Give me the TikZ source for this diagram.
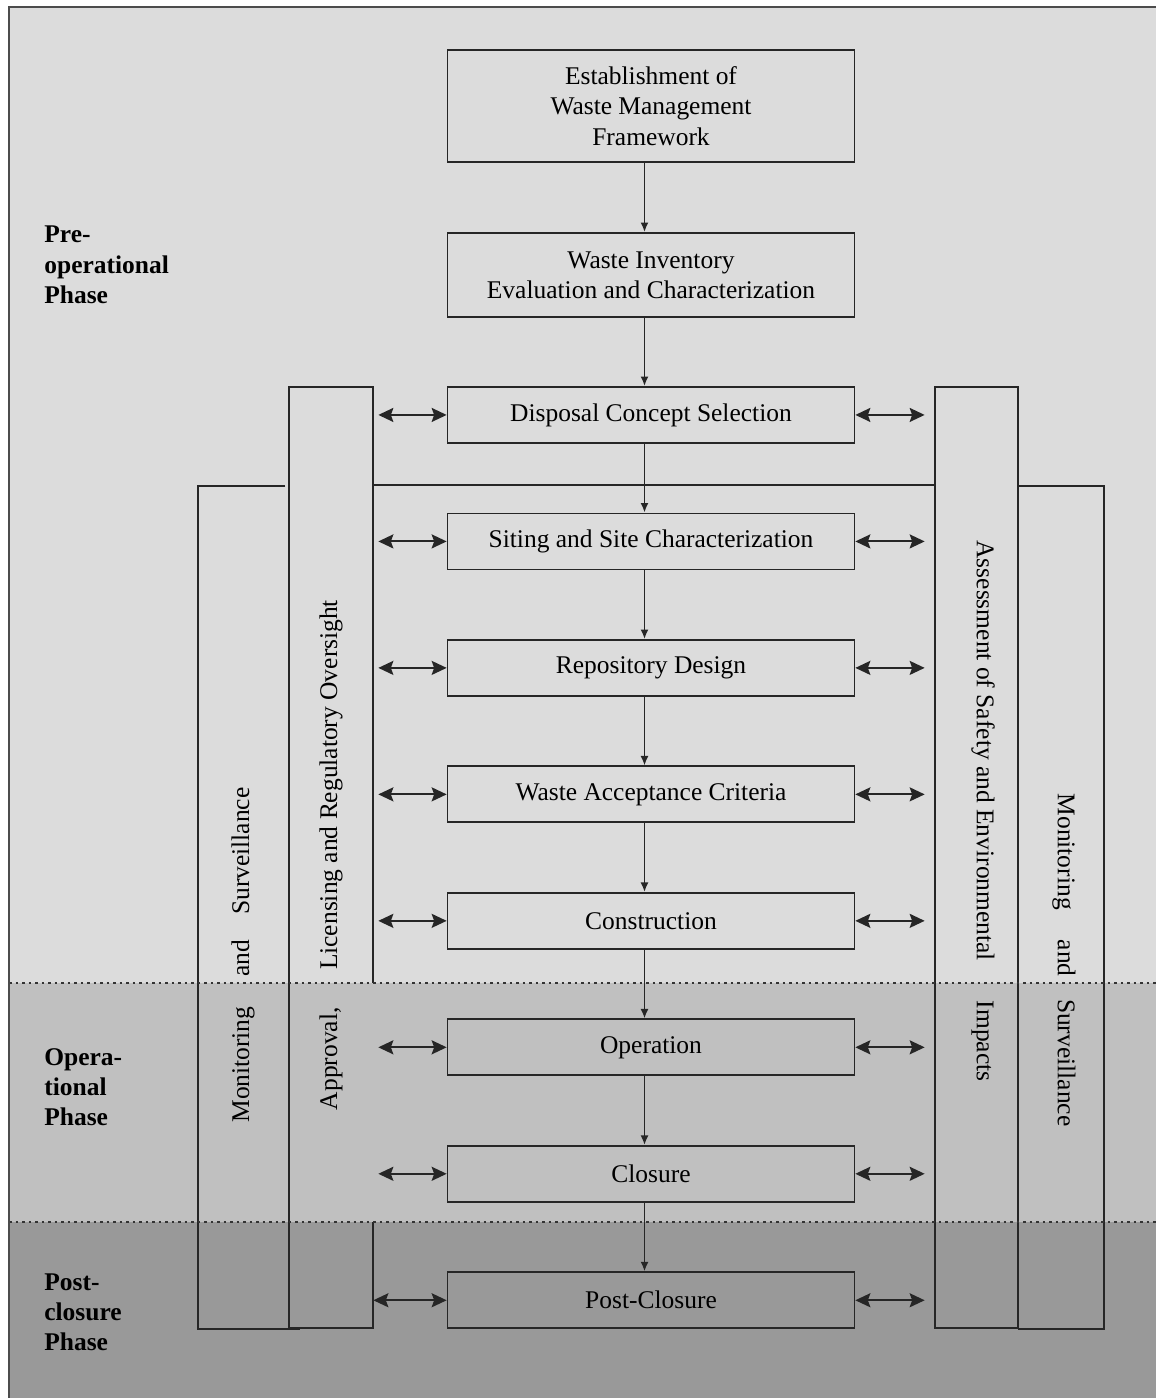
\documentclass[tikz,border=0pt]{standalone}
\usepackage{fontspec}
\setmainfont{Liberation Serif}
\usetikzlibrary{positioning,arrows.meta}

\definecolor{preop}{gray}{0.863}
\definecolor{opgray}{gray}{0.753}
\definecolor{postgray}{gray}{0.6}

\begin{document}
\begin{tikzpicture}[x=0.02cm,y=-0.02cm,node distance=2.53cm,on grid,
    font=\fontsize{14.5}{17.2}\selectfont,
    stage/.style={draw=black!85,line width=1pt,minimum width=8.14cm,
      minimum height=1.12cm,align=center,inner sep=2pt},
    lane/.style={inner sep=0pt,minimum height=18.82cm},
    outer/.style={inner sep=0pt,minimum height=16.86cm},
    lanetext/.style={inner sep=0pt},
    phase/.style={anchor=west,align=left,inner sep=0pt,
      font=\fontsize{14.5}{17.2}\selectfont\bfseries},
    edgeline/.style={draw=black!85,line width=1pt},
    flow/.style={edgeline,-{Latex[length=1.9mm,width=1.6mm]}},
    link/.style={edgeline,line width=1.1pt,
      {Stealth[length=3mm,width=2.8mm,inset=0.5mm]}-{Stealth[length=3mm,width=2.8mm,inset=0.5mm]}},
    divider/.style={draw=black!80,line width=1.3pt,dash pattern=on 1.5pt off 2.2pt},
    frame/.style={draw=black!70,line width=1.5pt}]

  % phase bands
  \useasboundingbox (0,0) rectangle (1156,1398);
  \fill[white] (0,0) rectangle (1156,1398);
  \fill[preop] (9,7) rectangle (1156,983);
  \fill[opgray] (9,983) rectangle (1156,1222);
  \fill[postgray] (9,1222) rectangle (1156,1398);
  \coordinate (opline) at (9,983);
  \coordinate (opend) at (1156,983);
  \coordinate (postline) at (9,1222);
  \coordinate (postend) at (1156,1222);
  \coordinate (bar) at (651,485);

  % stages
  \node[stage,minimum height=2.24cm] (b1) at (651,106) {Establishment of\\Waste Management\\Framework};
  \node[stage,minimum height=1.68cm] (b2) [below=3.38cm of b1] {Waste Inventory\\Evaluation and Characterization};
  \node[stage] (b3) [below=2.8cm of b2] {Disposal Concept Selection};
  \node[stage] (b4) [below=of b3] {Siting and Site Characterization};
  \node[stage] (b5) [below=of b4] {Repository Design};
  \node[stage] (b6) [below=of b5] {Waste Acceptance Criteria};
  \node[stage] (b7) [below=of b6] {Construction};
  \node[stage] (b8) [below=of b7] {Operation};
  \node[stage] (b9) [below=of b8] {Closure};
  \node[stage] (b10) [below=of b9] {Post-Closure};

  % side lanes
  \node[lane,minimum width=1.68cm] (lic) at (331,857.5) {};
  \node[lane,minimum width=1.66cm] (asm) at (976.5,857.5) {};
  \node[outer,minimum width=1.82cm] (monl) at (243.5,907.5) {};
  \node[outer,minimum width=1.72cm] (monr) at (1061,907.5) {};

  \draw[edgeline] ([xshift=-0.08cm]monl.north east) -- (monl.north west) -- (monl.south west) -- ([xshift=0.22cm]monl.south east);
  \draw[edgeline] (lic.south west) -- (lic.north west) -- (lic.north east) -- (lic.east |- opline);
  \draw[edgeline] (lic.east |- postline) -- (lic.south east) -- (lic.south west);
  \draw[edgeline] (asm.north west) rectangle (asm.south east);
  \draw[edgeline] (monr.north west) -- (monr.north east) -- (monr.south east) -- (monr.south west);
  \draw[edgeline] (lic.east |- bar) -- (asm.west |- bar);

  \node[lanetext,rotate=90] (lictxt) at (331,855) {Approval,\hspace{0.75cm}Licensing and Regulatory Oversight};
  \node[lanetext,rotate=90] (monltxt) at (243,955) {Monitoring\hspace{0.6cm}and\hspace{0.5cm}Surveillance};
  \node[lanetext,rotate=-90] (asmtxt) at (983,811) {Assessment of Safety and Environmental\hspace{0.8cm}Impacts};
  \node[lanetext,rotate=-90] (monrtxt) at (1064,960) {Monitoring\hspace{0.6cm}and\hspace{0.45cm}Surveillance};

  % phase names
  \node[phase] (prelbl) at (44,265) {Pre-\\operational\\Phase};
  \node[phase] (oplbl) at (44,1087) {Opera-\\tional\\Phase};
  \node[phase] (postlbl) at (44,1312) {Post-\\closure\\Phase};

  % main sequence
  \draw[flow] ([xshift=-0.13cm]b1.south) -- ([xshift=-0.13cm]b2.north);
  \draw[flow] ([xshift=-0.13cm]b2.south) -- ([xshift=-0.13cm]b3.north);
  \draw[flow] ([xshift=-0.13cm]b3.south) -- ([xshift=-0.13cm]b4.north);
  \draw[flow] ([xshift=-0.13cm]b4.south) -- ([xshift=-0.13cm]b5.north);
  \draw[flow] ([xshift=-0.13cm]b5.south) -- ([xshift=-0.13cm]b6.north);
  \draw[flow] ([xshift=-0.13cm]b6.south) -- ([xshift=-0.13cm]b7.north);
  \draw[flow] ([xshift=-0.13cm]b7.south) -- ([xshift=-0.13cm]b8.north);
  \draw[flow] ([xshift=-0.13cm]b8.south) -- ([xshift=-0.13cm]b9.north);
  \draw[flow] ([xshift=-0.13cm]b9.south) -- ([xshift=-0.13cm]b10.north);

  % links to the side lanes
  \draw[link,shorten <=0.1cm] (lic.east |- b3.west) -- (b3.west);
  \draw[link,shorten <=0.1cm] (lic.east |- b4.west) -- (b4.west);
  \draw[link,shorten <=0.1cm] (lic.east |- b5.west) -- (b5.west);
  \draw[link,shorten <=0.1cm] (lic.east |- b6.west) -- (b6.west);
  \draw[link,shorten <=0.1cm] (lic.east |- b7.west) -- (b7.west);
  \draw[link,shorten <=0.1cm] (lic.east |- b8.west) -- (b8.west);
  \draw[link,shorten <=0.1cm] (lic.east |- b9.west) -- (b9.west);
  \draw[link] (lic.east |- b10.west) -- (b10.west);

  \draw[link,shorten >=0.2cm] (b3.east) -- (asm.west |- b3.east);
  \draw[link,shorten >=0.2cm] (b4.east) -- (asm.west |- b4.east);
  \draw[link,shorten >=0.2cm] (b5.east) -- (asm.west |- b5.east);
  \draw[link,shorten >=0.2cm] (b6.east) -- (asm.west |- b6.east);
  \draw[link,shorten >=0.2cm] (b7.east) -- (asm.west |- b7.east);
  \draw[link,shorten >=0.2cm] (b8.east) -- (asm.west |- b8.east);
  \draw[link,shorten >=0.2cm] (b9.east) -- (asm.west |- b9.east);
  \draw[link,shorten >=0.2cm] (b10.east) -- (asm.west |- b10.east);

  % phase borders
  \draw[divider] (opline) -- (opend);
  \draw[divider] (postline) -- (postend);
  \draw[frame] (9,1398) -- (9,7) -- (1156,7);
\end{tikzpicture}
\end{document}
